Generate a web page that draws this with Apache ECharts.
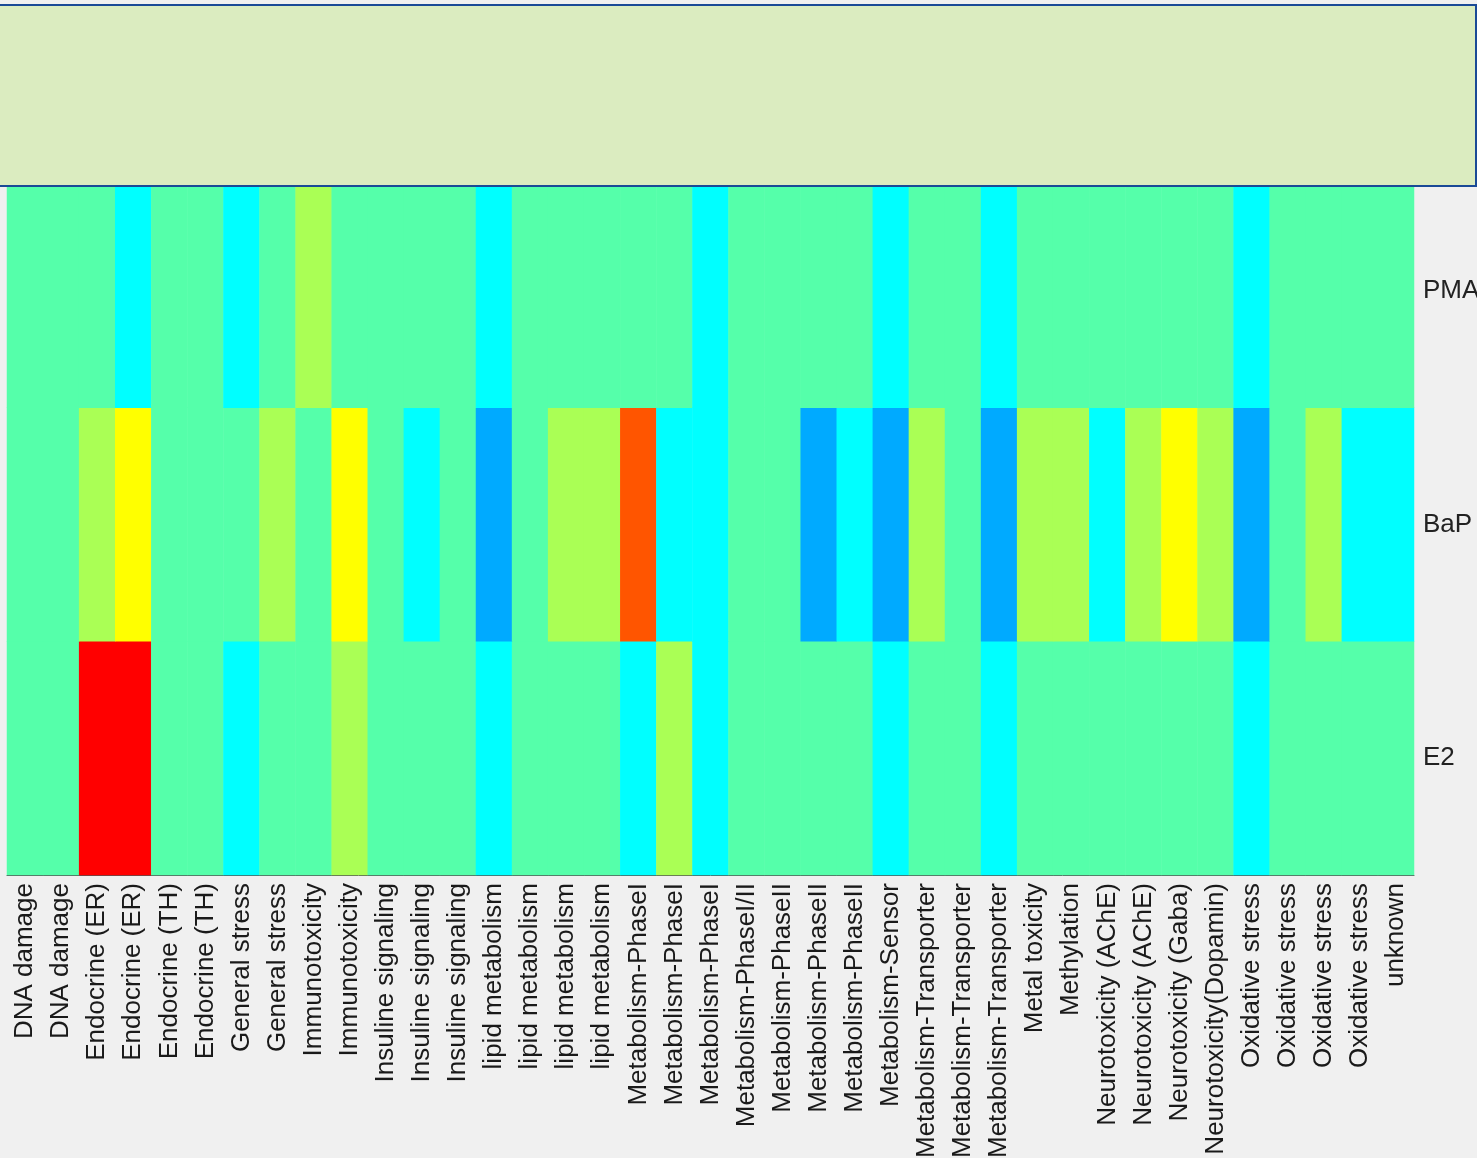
<!DOCTYPE html>
<html>
<head>
<meta charset="utf-8">
<script src="https://cdn.jsdelivr.net/npm/echarts@6/dist/echarts.min.js"></script>
<style>
  html, body { margin: 0; padding: 0; background: #f0f0f0; }
  #chart { width: 1477px; height: 1158px; }
</style>
</head>
<body>
<div id="chart"></div>
<script>
// Pathway categories along the x axis (one column per gene set)
const categories = [
  'DNA damage', 'DNA damage', 'Endocrine (ER)', 'Endocrine (ER)',
  'Endocrine (TH)', 'Endocrine (TH)', 'General stress', 'General stress',
  'Immunotoxicity', 'Immunotoxicity', 'Insuline signaling', 'Insuline signaling',
  'Insuline signaling', 'lipid metabolism', 'lipid metabolism', 'lipid metabolism',
  'lipid metabolism', 'Metabolism-PhaseI', 'Metabolism-PhaseI', 'Metabolism-PhaseI',
  'Metabolism-PhaseI/II', 'Metabolism-PhaseII', 'Metabolism-PhaseII', 'Metabolism-PhaseII',
  'Metabolism-Sensor', 'Metabolism-Transporter', 'Metabolism-Transporter', 'Metabolism-Transporter',
  'Metal toxicity', 'Methylation', 'Neurotoxicity (AChE)', 'Neurotoxicity (AChE)',
  'Neurotoxicity (Gaba)', 'Neurotoxicity(Dopamin)', 'Oxidative stress', 'Oxidative stress',
  'Oxidative stress', 'Oxidative stress', 'unknown'
];

// Treatments, listed bottom to top
const treatments = ['E2', 'BaP', 'PMA'];

// Response level per category for each treatment
const pmaValues = [
  0, 0, 0, -1, 0, 0, -1, 0, 1, 0,
  0, 0, 0, -1, 0, 0, 0, 0, 0, -1,
  0, 0, 0, 0, -1, 0, 0, -1, 0, 0,
  0, 0, 0, 0, -1, 0, 0, 0, 0
];
const bapValues = [
  0, 0, 1, 2, 0, 0, 0, 1, 0, 2,
  0, -1, 0, -2, 0, 1, 1, 4, -1, -1,
  0, 0, -2, -1, -2, 1, 0, -2, 1, 1,
  -1, 1, 2, 1, -2, 0, 1, -1, -1
];
const e2Values = [
  0, 0, 5, 5, 0, 0, -1, 0, 0, 1,
  0, 0, 0, -1, 0, 0, 0, -1, 1, -1,
  0, 0, 0, 0, -1, 0, 0, -1, 0, 0,
  0, 0, 0, 0, -1, 0, 0, 0, 0
];

// 12-step jet colour scale, levels -5 .. 6
const levels = [-5, -4, -3, -2, -1, 0, 1, 2, 3, 4, 5, 6];
const jetColors = [
  '#0000aa', '#0000ff', '#0055ff', '#00aaff', '#00ffff', '#55ffaa',
  '#aaff55', '#ffff00', '#ffaa00', '#ff5500', '#ff0000', '#aa0000'
];

const rows = [e2Values, bapValues, pmaValues];
const cells = [];
rows.forEach((vals, r) => {
  vals.forEach((v, c) => cells.push([c, r, v]));
});

const font = '"Liberation Sans", Arial, Helvetica, sans-serif';

const chart = echarts.init(document.getElementById('chart'));
chart.setOption({
  backgroundColor: '#f0f0f0',
  animation: false,
  grid: {
    left: 7, right: 63, top: 174, bottom: 283,
    containLabel: false,
    outerBoundsMode: 'none'
  },
  xAxis: {
    type: 'category',
    data: categories,
    splitArea: { show: false },
    axisLine: { show: true, lineStyle: { color: '#555555', width: 1 } },
    axisTick: { show: false },
    axisLabel: {
      interval: 0,
      rotate: 90,
      margin: 8,
      fontSize: 26,
      fontFamily: font,
      color: '#1a1a1a'
    }
  },
  yAxis: {
    type: 'category',
    data: treatments,
    position: 'right',
    axisLine: { show: false },
    axisTick: { show: false },
    splitArea: { show: false },
    axisLabel: {
      margin: 9,
      fontSize: 26,
      fontFamily: font,
      color: '#222222'
    }
  },
  visualMap: {
    type: 'piecewise',
    show: false,
    dimension: 2,
    pieces: levels.map((v, i) => ({ value: v, color: jetColors[i] }))
  },
  series: [{
    type: 'heatmap',
    data: cells,
    itemStyle: { borderWidth: 0 },
    emphasis: { disabled: true }
  }],
  graphic: [{
    type: 'rect',
    z: 100,
    shape: { x: -3, y: 5, width: 1479, height: 181 },
    style: { fill: '#dbecc0', stroke: '#1a4a96', lineWidth: 2 }
  }]
});
</script>
</body>
</html>
